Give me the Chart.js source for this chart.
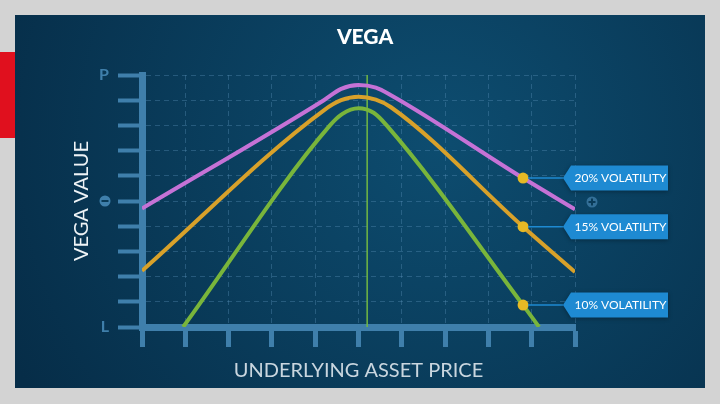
<!DOCTYPE html>
<html>
<head>
<meta charset="utf-8">
<script src="https://cdn.jsdelivr.net/npm/chart.js@4.4.1/dist/chart.umd.min.js"></script>
<style>
    html, body { margin: 0; padding: 0; background: #d3d3d3; }
    #wrap { width: 720px; height: 404px; }
</style>
</head>
<body>
<div id="wrap"><canvas id="vegaChart" width="720" height="404"></canvas></div>
<script>
    // data: x = 0..10 (asset price ticks), y = -5 (L) .. 5 (P)
    const xTickValues = [0, 1, 2, 3, 4, 5, 6, 7, 8, 9, 10];
    const yTickValues = [5, 0, -5];
    const yTickText = ['P', '', 'L'];

    const seriesNames = ['20% VOLATILITY', '15% VOLATILITY', '10% VOLATILITY'];
    const markerX = 8.8;

    const vol20X = [0, 4.2, 4.6, 5.0, 5.4, 5.75, 8.8, 10];
    const vol20Y = [-0.3, 4.0, 4.45, 4.6, 4.5, 4.2, 0.91, -0.33];

    const vol15X = [0, 4.2, 4.6, 5.0, 5.4, 5.75, 8.8, 10];
    const vol15Y = [-2.77, 3.6, 4.0, 4.14, 4.02, 3.72, -1.02, -2.82];

    const vol10X = [0.95, 4.34, 4.62, 5.0, 5.35, 5.65, 8.8, 9.17];
    const vol10Y = [-5, 3.0, 3.45, 3.68, 3.5, 3.0, -4.13, -5];

    const strikeX = [5.2, 5.2];
    const strikeY = [-5, 5];

    const axisColor = '#3f7fab';

    function toPoints(xs, ys) {
        return xs.map(function (x, i) { return { x: x, y: ys[i] }; });
    }

    function curve(label, xs, ys, color) {
        return {
            label: label,
            data: toPoints(xs, ys),
            borderColor: color,
            borderWidth: 4,
            cubicInterpolationMode: 'monotone',
            pointRadius: function (c) { return c.raw && c.raw.x === markerX ? 5.5 : 0; },
            pointBackgroundColor: '#e6b925',
            pointBorderWidth: 0,
            order: 1
        };
    }

    // background panel, red tab, title and the +/- icons
    const frame = {
        id: 'frame',
        beforeDraw: function (chart) {
            const ctx = chart.ctx;
            ctx.save();
            ctx.fillStyle = '#d3d3d3';
            ctx.fillRect(0, 0, 720, 404);
            const g = ctx.createRadialGradient(440, 140, 10, 440, 140, 480);
            g.addColorStop(0, '#0d4c6f');
            g.addColorStop(1, '#062d48');
            ctx.fillStyle = g;
            ctx.fillRect(15, 15, 690, 373);
            ctx.fillStyle = '#e0101e';
            ctx.fillRect(0, 52, 15, 86);
            ctx.fillStyle = '#ffffff';
            ctx.font = '900 21px Lato';
            ctx.textAlign = 'center';
            ctx.textBaseline = 'middle';
            ctx.fillText('VEGA', 365, 37);
            ctx.restore();
        },
        afterDraw: function (chart) {
            const ctx = chart.ctx;
            const y0 = chart.scales.y.getPixelForValue(0);
            const area = chart.chartArea;
            ctx.save();
            // minus icon on the y axis
            ctx.fillStyle = axisColor;
            ctx.beginPath();
            ctx.arc(105, y0, 5.5, 0, Math.PI * 2);
            ctx.fill();
            ctx.fillStyle = '#0a3b58';
            ctx.fillRect(101.5, y0 - 1, 7, 2);
            // plus icon on the right
            ctx.fillStyle = '#336f97';
            ctx.beginPath();
            ctx.arc(area.right + 17, y0 + 1, 5.5, 0, Math.PI * 2);
            ctx.fill();
            ctx.fillStyle = '#0a3b58';
            ctx.fillRect(area.right + 13.5, y0, 7, 2);
            ctx.fillRect(area.right + 16, y0 - 2.5, 2, 7);
            ctx.restore();
        }
    };

    // callout boxes next to the markers
    const callouts = {
        id: 'callouts',
        afterDatasetsDraw: function (chart) {
            const ctx = chart.ctx;
            const area = chart.chartArea;
            ctx.save();
            seriesNames.forEach(function (name, i) {
                const meta = chart.getDatasetMeta(i);
                const idx = meta._dataset.data.findIndex(function (p) { return p.x === markerX; });
                const pt = meta.data[idx];
                const tip = area.right - 12;
                const left = tip + 8;
                const right = left + 97;
                const top = pt.y - 12.5;
                const bottom = pt.y + 12.5;

                ctx.strokeStyle = '#1e8ad2';
                ctx.lineWidth = 1.5;
                ctx.beginPath();
                ctx.moveTo(pt.x + 5, pt.y);
                ctx.lineTo(tip, pt.y);
                ctx.stroke();

                ctx.shadowColor = 'rgba(0,0,0,0.35)';
                ctx.shadowBlur = 4;
                ctx.shadowOffsetY = 1;
                ctx.fillStyle = '#1e8ad2';
                ctx.beginPath();
                ctx.moveTo(tip, pt.y);
                ctx.lineTo(left, top);
                ctx.lineTo(right, top);
                ctx.lineTo(right, bottom);
                ctx.lineTo(left, bottom);
                ctx.closePath();
                ctx.fill();
                ctx.shadowColor = 'transparent';

                ctx.fillStyle = '#ffffff';
                ctx.font = '12px Lato';
                ctx.textAlign = 'center';
                ctx.textBaseline = 'middle';
                ctx.fillText(name, (left + right) / 2 + 1, pt.y + 0.5);
            });
            ctx.restore();
        }
    };

    window.onload = function () {
        const ctx = document.getElementById('vegaChart').getContext('2d');
        const chart = new Chart(ctx, {
            type: 'line',
            data: {
                datasets: [
                    curve(seriesNames[0], vol20X, vol20Y, '#c572d6'),
                    curve(seriesNames[1], vol15X, vol15Y, '#d8a12a'),
                    curve(seriesNames[2], vol10X, vol10Y, '#79b53b'),
                    {
                        label: 'strike',
                        data: toPoints(strikeX, strikeY),
                        borderColor: '#72b843',
                        borderWidth: 1.5,
                        pointRadius: 0,
                        order: 2
                    }
                ]
            },
            options: {
                responsive: false,
                animation: false,
                events: [],
                layout: { padding: { left: 70, right: 145, top: 75, bottom: 21 } },
                plugins: {
                    legend: { display: false },
                    tooltip: { enabled: false }
                },
                scales: {
                    x: {
                        type: 'linear',
                        min: xTickValues[0],
                        max: xTickValues[xTickValues.length - 1],
                        afterBuildTicks: function (s) { s.ticks = xTickValues.map(function (v) { return { value: v }; }); },
                        afterFit: function (s) { s.height = 56; },
                        ticks: { display: false },
                        grid: {
                            color: 'rgba(95,150,190,0.35)',
                            lineWidth: 1,
                            tickLength: 20,
                            tickWidth: 5,
                            tickColor: axisColor
                        },
                        border: { display: true, color: axisColor, width: 7, dash: [5, 4] },
                        title: {
                            display: true,
                            text: 'UNDERLYING ASSET PRICE',
                            color: '#c9d6df',
                            font: { family: 'Lato', size: 20 },
                            padding: 0
                        }
                    },
                    y: {
                        type: 'linear',
                        min: -5,
                        max: 5,
                        afterFit: function (s) { s.width = 72; },
                        ticks: {
                            stepSize: 1,
                            padding: 9,
                            color: axisColor,
                            font: { family: 'Lato', size: 16, weight: 'bold' },
                            callback: function (v) {
                                const k = yTickValues.indexOf(v);
                                return k >= 0 ? yTickText[k] : '';
                            }
                        },
                        grid: {
                            color: function (c) { return c.tick && c.tick.value === -5 ? 'rgba(0,0,0,0)' : 'rgba(95,150,190,0.35)'; },
                            lineWidth: 1,
                            tickLength: 24,
                            tickWidth: 4,
                            tickColor: axisColor
                        },
                        border: { display: true, color: axisColor, width: 7, dash: [5, 4] },
                        title: {
                            display: true,
                            text: 'VEGA VALUE',
                            color: '#eef3f6',
                            font: { family: 'Lato', size: 20 },
                            padding: 0
                        }
                    }
                }
            },
            plugins: [frame, callouts]
        });
    };
</script>
</body>
</html>
